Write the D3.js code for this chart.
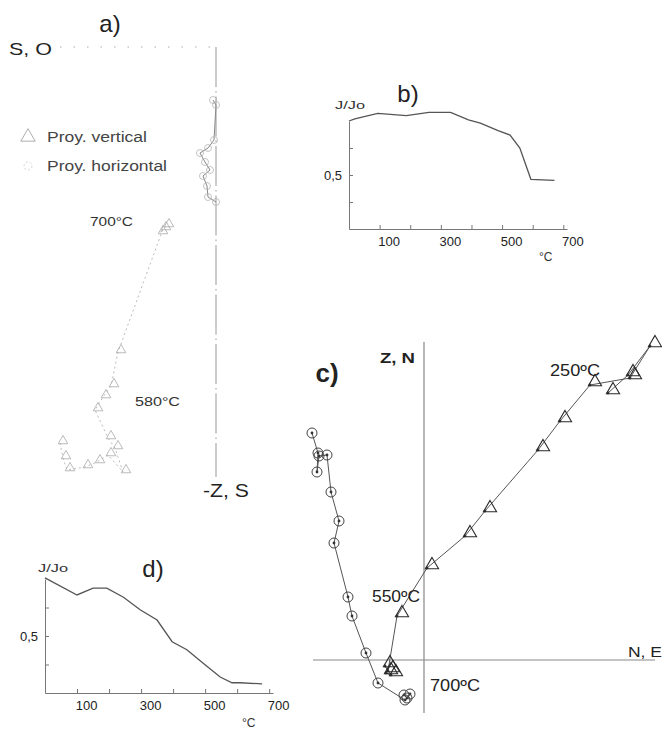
<!DOCTYPE html>
<html><head><meta charset="utf-8">
<script src="https://cdn.jsdelivr.net/npm/d3@7"></script>
<style>body{margin:0;background:#fff}svg{display:block}text{font-family:"Liberation Sans",Arial,sans-serif}</style>
</head><body><svg id="fig" width="662" height="729"></svg>
<script>
// ---------- DATA ----------
// a) Zijderveld diagram (arbitrary units): [x, y]
const aHorizontal = [[-0.02,-0.53],[0.01,-0.58],[-0.01,-0.93],[-0.07,-1.01],[-0.15,-1.06],[-0.10,-1.15],[-0.05,-1.23],[-0.12,-1.29],[-0.08,-1.39],[-0.07,-1.50],[0.01,-1.55]];
const aVertical = [[-1.55,-3.96],[-1.52,-4.11],[-1.48,-4.23],[-1.30,-4.20],[-1.18,-4.15],[-1.07,-4.08],[-0.92,-4.25],[-1.00,-4.01],[-1.07,-3.91],[-1.20,-3.63],[-1.12,-3.50],[-1.04,-3.39],[-0.97,-3.05],[-0.52,-1.82],[-0.55,-1.86],[-0.49,-1.79]];
const aLabels = [{t:"700°C", p:[-0.52,-1.82]}, {t:"580°C", p:[-1.20,-3.63]}];
// b) J/Jo vs temperature
const bTemp = [0,19,94,187,261,332,390,429,487,526,558,594,671];
const bJ    = [1.00,1.02,1.07,1.05,1.08,1.08,1.01,0.98,0.91,0.87,0.75,0.46,0.45];
// c) Zijderveld diagram: [E or N, Z or N]
const cVertical = [[1.84,2.67],[2.04,2.85],[2.26,3.14],[2.06,2.82],[1.66,2.75],[1.36,2.39],[1.14,2.10],[0.61,1.49],[0.41,1.24],[0.03,0.92],[-0.27,0.44],[-0.36,-0.11],[-0.39,-0.06],[-0.33,-0.15],[-0.38,-0.13]];
const cHorizontal = [[-1.12,2.27],[-1.06,2.07],[-1.07,1.88],[-1.05,2.04],[-0.97,2.05],[-0.93,1.68],[-0.85,1.39],[-0.90,1.17],[-0.76,0.63],[-0.72,0.44],[-0.58,0.07],[-0.46,-0.23],[-0.19,-0.40],[-0.14,-0.34],[-0.17,-0.38],[-0.20,-0.35]];
const cLabels = [{t:"250ºC", p:[1.66,2.75]}, {t:"550ºC", p:[-0.27,0.44]}, {t:"700ºC", p:[-0.19,-0.40]}];
// d) J/Jo vs temperature
const dTemp = [0,100,150,193,245,297,350,397,443,494,547,584,609,678];
const dJ    = [1.01,0.86,0.92,0.92,0.84,0.73,0.64,0.45,0.38,0.26,0.14,0.09,0.09,0.08];
// ticks
const tempTicks = [100,200,300,400,500,600,700];
const tempLabels = [100,300,500,700];
const jTicks = [0.25,0.5,0.75];

// ---------- DRAW ----------
const svg = d3.select("#fig");
const FONT = '"Liberation Sans",Arial,sans-serif';
function txt(g,x,y,s,size,opts={}){
  const t=g.append("text").attr("x",x).attr("y",y).text(s)
    .attr("font-size",size).attr("fill",opts.fill||"#222")
    .attr("font-weight",opts.bold?"bold":"normal")
    .attr("text-anchor",opts.anchor||"start");
  if(opts.len) t.attr("textLength",opts.len).attr("lengthAdjust","spacingAndGlyphs");
  return t;
}
const tri = d3.symbol().type(d3.symbolTriangle);

// ===== a) =====
{
  const g = svg.append("g");
  const x = d3.scaleLinear().domain([-2,0]).range([15,215]);
  const y = d3.scaleLinear().domain([0,-4.4]).range([47,487]);
  g.append("line").attr("x1",x(-1.55)).attr("x2",x(0)).attr("y1",y(0)).attr("y2",y(0))
    .attr("stroke","#aaa").attr("stroke-dasharray","1.5,12");
  g.append("line").attr("x1",x(0)+1).attr("x2",x(0)+1).attr("y1",y(0)).attr("y2",y(-4.3))
    .attr("stroke","#999").attr("stroke-dasharray","40,4,1.5,4");
  const line = d3.line().x(d=>x(d[0])).y(d=>y(d[1]));
  g.append("path").attr("d",line(aHorizontal)).attr("fill","none").attr("stroke","#888").attr("stroke-width",1);
  g.append("path").attr("d",line(aVertical)).attr("fill","none").attr("stroke","#aaa").attr("stroke-width",0.8).attr("stroke-dasharray","2,3");
  g.selectAll(".ac").data(aHorizontal).enter().append("circle")
    .attr("cx",d=>x(d[0])).attr("cy",d=>y(d[1])).attr("r",3.5)
    .attr("fill","none").attr("stroke","#b4b4b4").attr("stroke-width",0.8);
  g.selectAll(".at").data(aVertical).enter().append("path")
    .attr("d",tri.size(40)()).attr("transform",d=>`translate(${x(d[0])+3},${y(d[1])-2})`)
    .attr("fill","none").attr("stroke","#aaa").attr("stroke-width",0.8);
  txt(g,110,32,"a)",24,{anchor:"middle"});
  txt(g,9,55,"S, O",17,{len:43});
  txt(g,203,497,"-Z, S",19,{len:46});
  // legend
  g.append("path").attr("d",tri.size(90)()).attr("transform","translate(28,137)")
    .attr("fill","none").attr("stroke","#999").attr("stroke-width",0.8);
  txt(g,47,142,"Proy. vertical",14,{fill:"#444",len:100});
  g.append("circle").attr("cx",28).attr("cy",166).attr("r",4).attr("fill","none").attr("stroke","#ccc").attr("stroke-width",0.8).attr("stroke-dasharray","2,2");
  txt(g,47,171,"Proy. horizontal",14,{fill:"#444",len:120});
  txt(g,x(aLabels[0].p[0])-30,y(aLabels[0].p[1])-3,aLabels[0].t,12.5,{anchor:"end",fill:"#333",len:43});
  txt(g,x(aLabels[1].p[0])+40,y(aLabels[1].p[1])-4,aLabels[1].t,12.5,{fill:"#333",len:45});
}

// ===== J/Jo panels =====
function jPanel(xr, yr, temps, js){
  const g = svg.append("g");
  const x = d3.scaleLinear().domain([0,712]).range(xr);
  const y = d3.scaleLinear().domain([0,1]).range(yr);
  const ax = d3.axisBottom(x).tickValues(tempTicks).tickSize(-4).tickSizeOuter(0).tickPadding(8)
    .tickFormat(d=>tempLabels.includes(d)?d:"");
  const gx = g.append("g").attr("transform",`translate(0,${y(0)})`).call(ax);
  gx.selectAll("text").attr("dx",9).attr("font-size",13).attr("font-family",FONT).attr("fill","#222");
  const ay = d3.axisLeft(y).tickValues(jTicks).tickSize(-4).tickSizeOuter(0).tickPadding(7)
    .tickFormat(d=>d===0.5?"0,5":"");
  const gy = g.append("g").attr("transform",`translate(${x(0)},0)`).call(ay);
  gy.selectAll("text").attr("font-size",13).attr("font-family",FONT).attr("fill","#222");
  g.selectAll(".domain, .tick line").attr("stroke","#777");
  const line = d3.line().x((d,i)=>x(temps[i])).y((d,i)=>y(js[i]));
  g.append("path").attr("d",line(temps)).attr("fill","none").attr("stroke","#555").attr("stroke-width",1.3);
  return {g,x,y};
}
{
  const p = jPanel([349,567],[229,121],bTemp,bJ);
  txt(p.g,408,102,"b)",24,{anchor:"middle"});
  txt(p.g,335,109,"J/Jo",11,{fill:"#333",len:30});
  txt(p.g,539,261,"°C",12,{fill:"#333"});
}
{
  const p = jPanel([45,273],[693,579],dTemp,dJ);
  txt(p.g,153,577,"d)",24,{anchor:"middle"});
  txt(p.g,38,572,"J/Jo",11,{fill:"#333",len:30});
  txt(p.g,242,727,"°C",12,{fill:"#333"});
}

// ===== c) =====
{
  const g = svg.append("g");
  const x = d3.scaleLinear().domain([-1.11,2.31]).range([313,655]);
  const y = d3.scaleLinear().domain([3.18,-0.53]).range([342,713]);
  g.append("line").attr("x1",x(0)).attr("x2",x(0)).attr("y1",y(3.18)).attr("y2",y(-0.53)).attr("stroke","#888").attr("stroke-width",1.2);
  g.append("line").attr("x1",x(-1.11)).attr("x2",x(2.31)).attr("y1",y(0)).attr("y2",y(0)).attr("stroke","#888").attr("stroke-width",1.2);
  const line = d3.line().x(d=>x(d[0])).y(d=>y(d[1]));
  g.append("path").attr("d",line(cVertical)).attr("fill","none").attr("stroke","#555").attr("stroke-width",1);
  g.append("path").attr("d",line(cHorizontal)).attr("fill","none").attr("stroke","#555").attr("stroke-width",1);
  g.selectAll(".cd").data(cVertical.concat(cHorizontal)).enter().append("circle")
    .attr("cx",d=>x(d[0])).attr("cy",d=>y(d[1])).attr("r",1.4).attr("fill","#333");
  g.selectAll(".ct").data(cVertical).enter().append("path")
    .attr("d",tri.size(75)()).attr("transform",d=>`translate(${x(d[0])+5},${y(d[1])-3})`)
    .attr("fill","none").attr("stroke","#2a2a2a").attr("stroke-width",1.1);
  g.selectAll(".cc").data(cHorizontal).enter().append("circle")
    .attr("cx",d=>x(d[0])).attr("cy",d=>y(d[1])).attr("r",5)
    .attr("fill","none").attr("stroke","#444").attr("stroke-width",1);
  txt(g,327,382,"c)",26,{anchor:"middle",bold:true});
  txt(g,380,363,"Z, N",14,{bold:true,len:35});
  txt(g,628,657,"N, E",15,{len:34});
  txt(g,x(cLabels[0].p[0])-40,y(cLabels[0].p[1])-9,cLabels[0].t,16,{len:50});
  txt(g,x(cLabels[1].p[0])-25,y(cLabels[1].p[1])-14,cLabels[1].t,16,{len:48});
  txt(g,x(cLabels[2].p[0])+25,y(cLabels[2].p[1])-9,cLabels[2].t,16,{len:50});
}
</script></body></html>
